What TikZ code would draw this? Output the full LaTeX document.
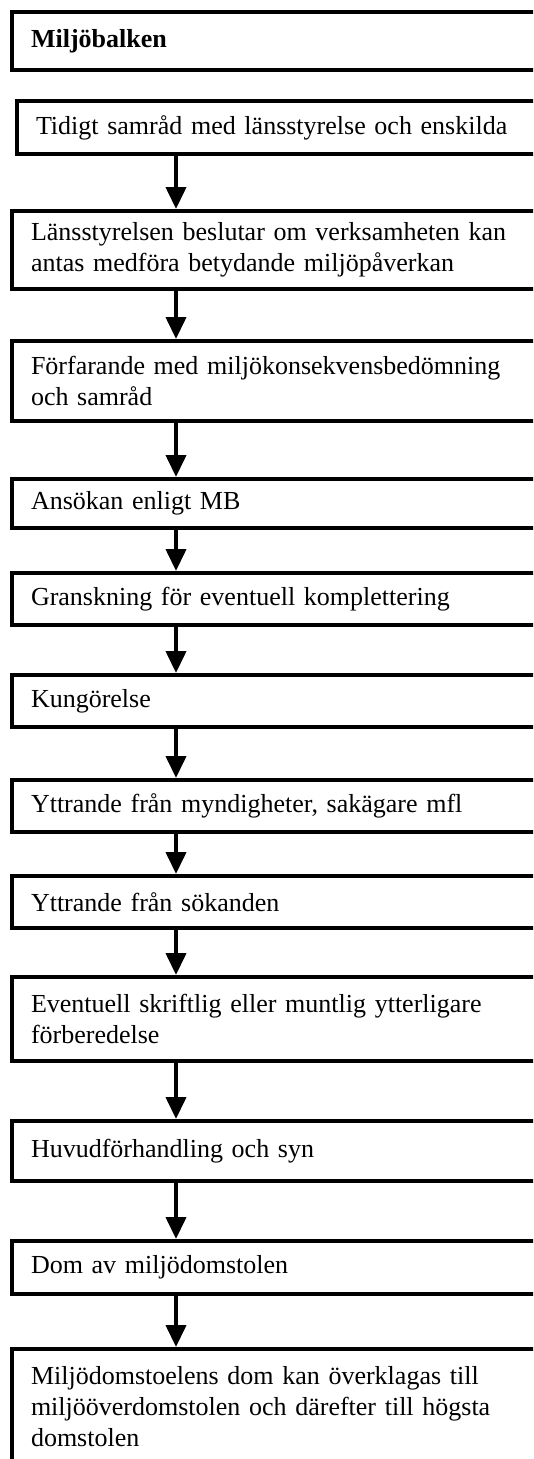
\documentclass[tikz,border=0pt]{standalone}
\usepackage{fontspec}
\setmainfont{Liberation Serif}
\usetikzlibrary{arrows.meta}
\begin{document}
\begin{tikzpicture}[x=1pt,y=-1pt,
  stepbox/.style={draw, line width=4pt, rectangle, anchor=north west,
    inner xsep=19pt, inner ysep=0pt, text width=500pt, align=left,
    font=\fontsize{26}{31}\selectfont},
  flow/.style={line width=4pt, -{Triangle[width=20pt,length=22pt]}}
]
\fill[white] (0,0) rectangle (533,1459);
\useasboundingbox (0,0) rectangle (533,1459);
\clip (0,0) rectangle (533,1459);

% arrow column
\coordinate (ax) at (176,0);

\node[stepbox, minimum height=58pt, font=\bfseries\fontsize{26}{31}\selectfont] (b1) at (10,10) {Miljöbalken};
\node[stepbox, minimum height=53pt] (b2) at (15,99) {Tidigt samråd med länsstyrelse och enskilda};
\node[stepbox, minimum height=78pt] (b3) at (10,209) {Länsstyrelsen beslutar om verksamheten kan\\antas medföra betydande miljöpåverkan};
\node[stepbox, minimum height=80pt] (b4) at (10,339) {Förfarande med miljökonsekvensbedömning\\och samråd};
\node[stepbox, minimum height=49pt] (b5) at (10,477) {Ansökan enligt MB};
\node[stepbox, minimum height=52pt] (b6) at (10,571) {Granskning för eventuell komplettering};
\node[stepbox, minimum height=52pt] (b7) at (10,673) {Kungörelse};
\node[stepbox, minimum height=52pt] (b8) at (10,778) {Yttrande från myndigheter, sakägare mfl};
\node[stepbox, minimum height=52pt] (b9) at (10,874) {Yttrande från sökanden};
\node[stepbox, minimum height=84pt] (b10) at (10,975) {Eventuell skriftlig eller muntlig ytterligare\\förberedelse};
\node[stepbox, minimum height=60pt] (b11) at (10,1119) {Huvudförhandling och syn};
\node[stepbox, minimum height=53pt] (b12) at (10,1239) {Dom av miljödomstolen};
\node[stepbox, inner ysep=17pt] (b13) at (10,1347) {\parbox[c][150pt][t]{500pt}{Miljödomstoelens dom kan överklagas till\\miljööverdomstolen och därefter till högsta\\domstolen}};

\foreach \a/\b in {b2/b3,b3/b4,b4/b5,b5/b6,b6/b7,b7/b8,b8/b9,b9/b10,b10/b11,b11/b12,b12/b13}
  \draw[flow] (\a.south -| ax) -- (\b.north -| ax);
\end{tikzpicture}
\end{document}
